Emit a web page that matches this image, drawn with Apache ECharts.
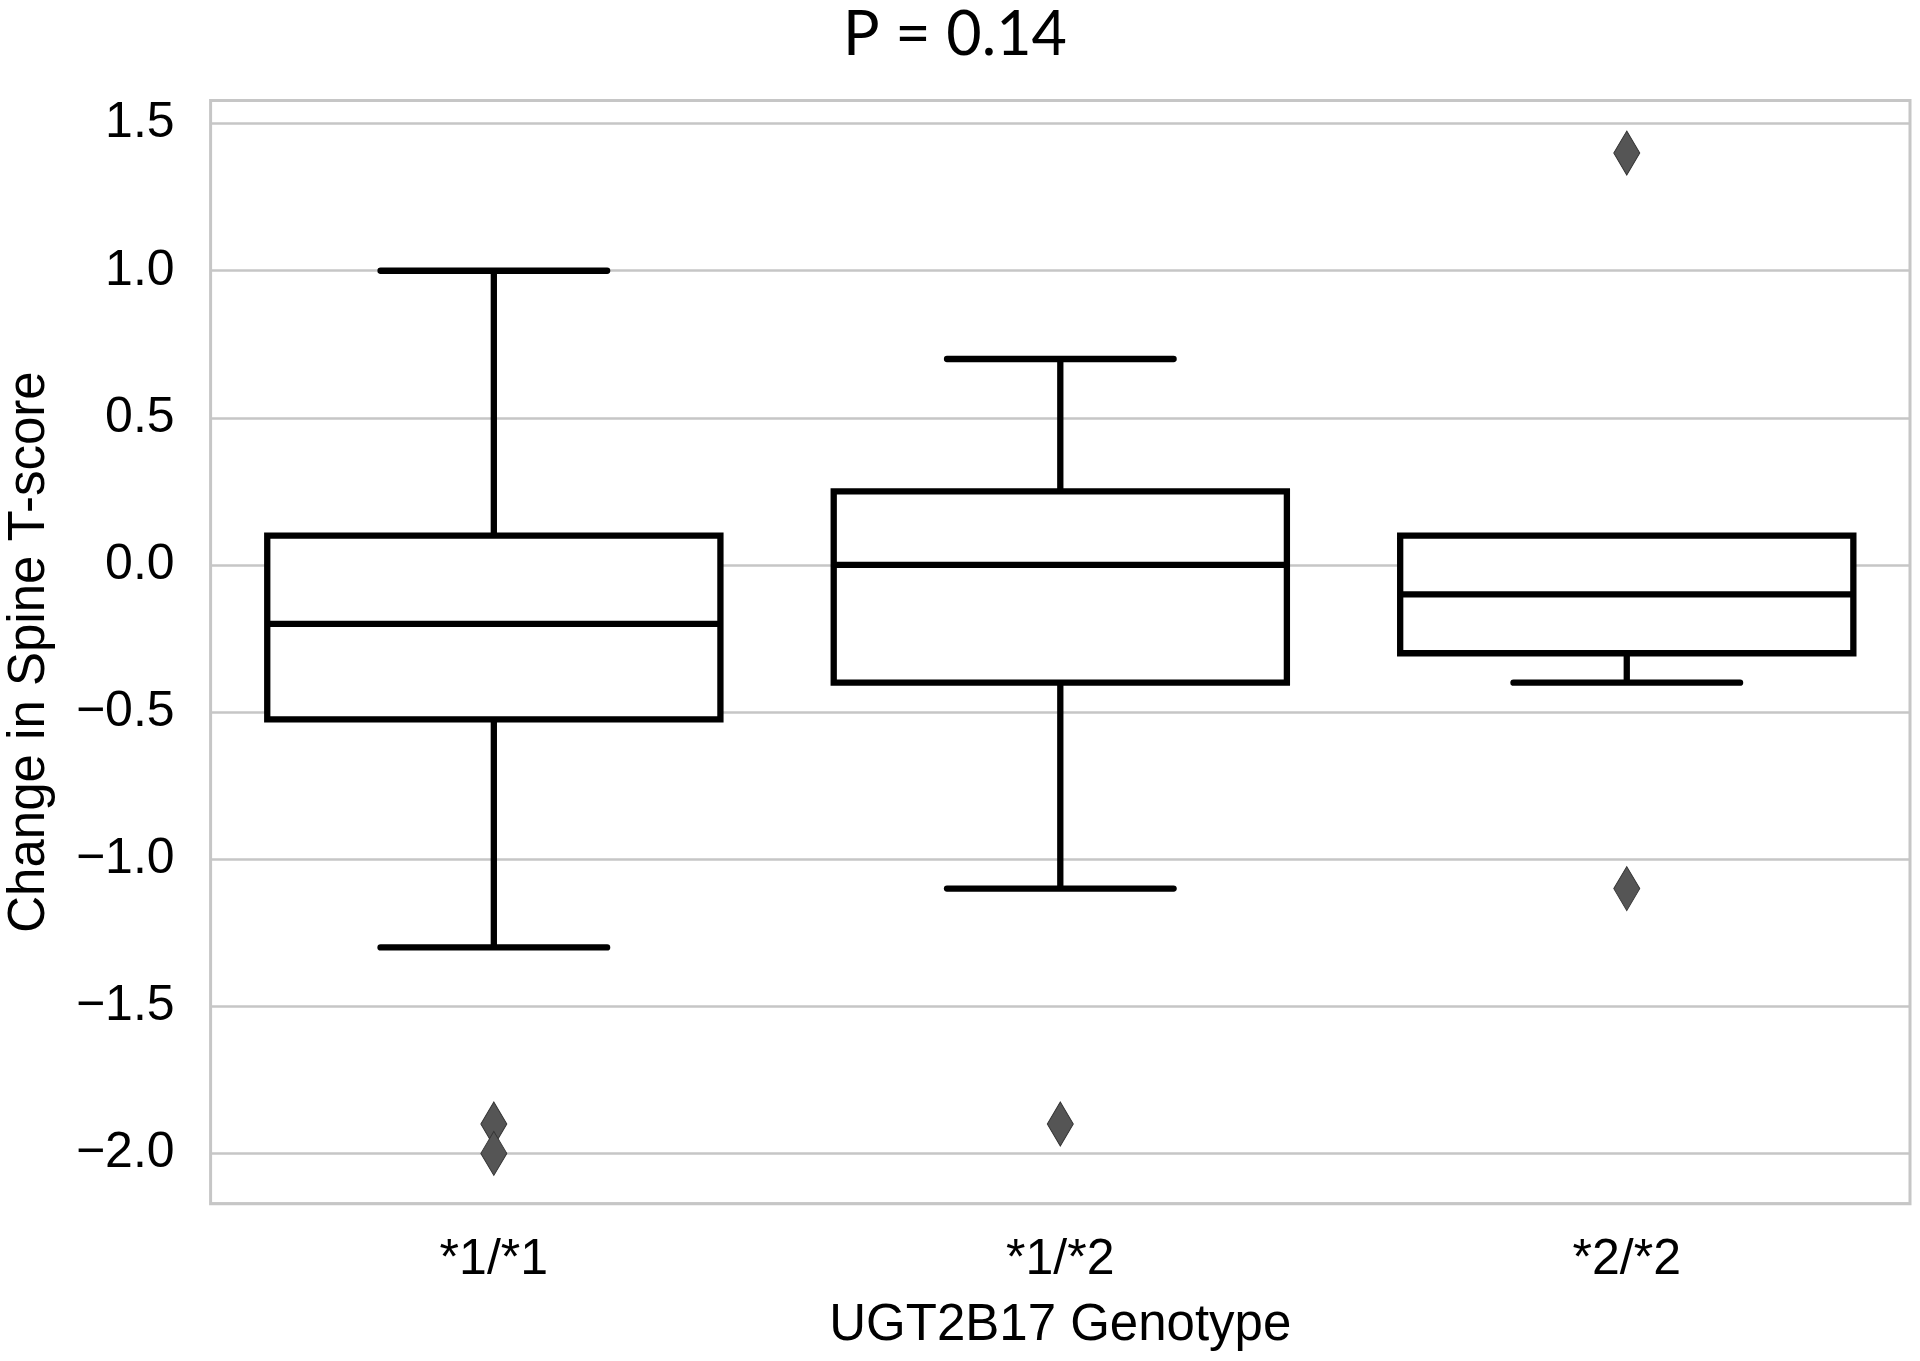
<!DOCTYPE html>
<html>
<head>
<meta charset="utf-8">
<script src="https://cdn.jsdelivr.net/npm/echarts@6/dist/echarts.min.js"></script>
<style>
  html, body { margin: 0; padding: 0; background: #fff; }
  #chart { width: 1920px; height: 1361px; }
</style>
</head>
<body>
<div id="chart"></div>
<script>
// ---- data ----
const categories = ['*1/*1', '*1/*2', '*2/*2'];
// whisker low, Q1, median, Q3, whisker high
const whiskerLow = [-1.3, -1.1, -0.4];
const q1Values = [-0.525, -0.4, -0.3];
const medianValues = [-0.2, 0.0, -0.1];
const q3Values = [0.1, 0.25, 0.1];
const whiskerHigh = [1.0, 0.7, 0.1];
// outliers: [category index, value]
const outliers = [[0, -1.9], [0, -2.0], [1, -1.9], [2, 1.4], [2, -1.1]];
const yTickLabels = [-2.0, -1.5, -1.0, -0.5, 0.0, 0.5, 1.0, 1.5];
const yMin = -2.171, yMax = 1.579;
const titleText = 'P = 0.14';
const xName = 'UGT2B17 Genotype';
const yName = 'Change in Spine T-score';

const boxData = categories.map((c, i) => [i, whiskerLow[i], q1Values[i], medianValues[i], q3Values[i], whiskerHigh[i]]);

const chart = echarts.init(document.getElementById('chart'), null, { renderer: 'canvas' });
const LW = 6.3;
const axisFont = 'Liberation Sans, Arial, sans-serif';

function renderBox(params, api) {
  const x = api.value(0);
  const pMin = api.coord([x, api.value(1)]);
  const pQ1 = api.coord([x, api.value(2)]);
  const pMed = api.coord([x, api.value(3)]);
  const pQ3 = api.coord([x, api.value(4)]);
  const pMax = api.coord([x, api.value(5)]);
  const band = api.size([1, 0])[0];
  const bw = band * 0.8;
  const cw = bw / 2;
  const cx = pMed[0];
  const stroke = { stroke: '#000', lineWidth: LW, fill: null };
  const children = [];
  if (pMin[1] > pQ1[1]) {
    children.push({ type: 'line', shape: { x1: cx, y1: pQ1[1], x2: cx, y2: pMin[1] }, style: stroke });
    children.push({ type: 'line', shape: { x1: cx - cw / 2, y1: pMin[1], x2: cx + cw / 2, y2: pMin[1] }, style: Object.assign({ lineCap: 'round' }, stroke) });
  }
  if (pMax[1] < pQ3[1]) {
    children.push({ type: 'line', shape: { x1: cx, y1: pQ3[1], x2: cx, y2: pMax[1] }, style: stroke });
    children.push({ type: 'line', shape: { x1: cx - cw / 2, y1: pMax[1], x2: cx + cw / 2, y2: pMax[1] }, style: Object.assign({ lineCap: 'round' }, stroke) });
  }
  children.push({ type: 'rect', shape: { x: cx - bw / 2, y: pQ3[1], width: bw, height: pQ1[1] - pQ3[1] },
    style: { fill: '#fff', stroke: '#000', lineWidth: LW, lineJoin: 'miter' } });
  children.push({ type: 'line', shape: { x1: cx - bw / 2, y1: pMed[1], x2: cx + bw / 2, y2: pMed[1] }, style: stroke });
  return { type: 'group', children };
}

const option = {
  backgroundColor: '#fff',
  animation: false,
  graphic: [{
    type: 'text', x: 955, y: 35,
    style: { text: titleText, font: '400 61px Lato, "Open Sans", sans-serif', fill: '#000', textAlign: 'center', textVerticalAlign: 'middle' }
  }],
  grid: { left: 210.6, right: 10, top: 100.4, bottom: 157.3, show: true, borderColor: '#c6c6c6', borderWidth: 3,
    backgroundColor: 'transparent', containLabel: false, outerBoundsMode: 'none' },
  xAxis: {
    type: 'category', data: categories, boundaryGap: true,
    axisLine: { show: false }, axisTick: { show: false }, splitLine: { show: false },
    axisLabel: { color: '#000', fontFamily: axisFont, fontSize: 50, margin: 32 },
    name: xName, nameLocation: 'middle', nameGap: 97,
    nameTextStyle: { color: '#000', fontFamily: axisFont, fontSize: 51 }
  },
  yAxis: {
    type: 'value', min: yMin, max: yMax, minInterval: 0.5, maxInterval: 0.5, splitNumber: 7,
    axisLine: { show: false }, axisTick: { show: false },
    splitLine: { show: true, lineStyle: { color: '#c6c6c6', width: 2.5 } },
    axisLabel: {
      color: '#000', fontFamily: axisFont, fontSize: 50, margin: 36,
      showMinLabel: false, showMaxLabel: false,
      formatter: v => {
        const t = yTickLabels.find(tv => Math.abs(tv - v) < 1e-6);
        return t === undefined ? '' : t.toFixed(1).replace('-', '\u2212');
      }
    },
    name: yName, nameLocation: 'middle', nameGap: 155, nameRotate: 90,
    nameTextStyle: { color: '#000', fontFamily: axisFont, fontSize: 51 }
  },
  series: [
    { type: 'custom', renderItem: renderBox, data: boxData, encode: { x: 0, y: [1, 2, 3, 4, 5] }, z: 2 },
    { type: 'scatter', data: outliers, symbol: 'diamond', symbolSize: [26, 44],
      itemStyle: { color: '#555555', borderColor: '#333', borderWidth: 1, opacity: 1 }, z: 3 }
  ]
};
chart.setOption(option);
</script>
</body>
</html>
